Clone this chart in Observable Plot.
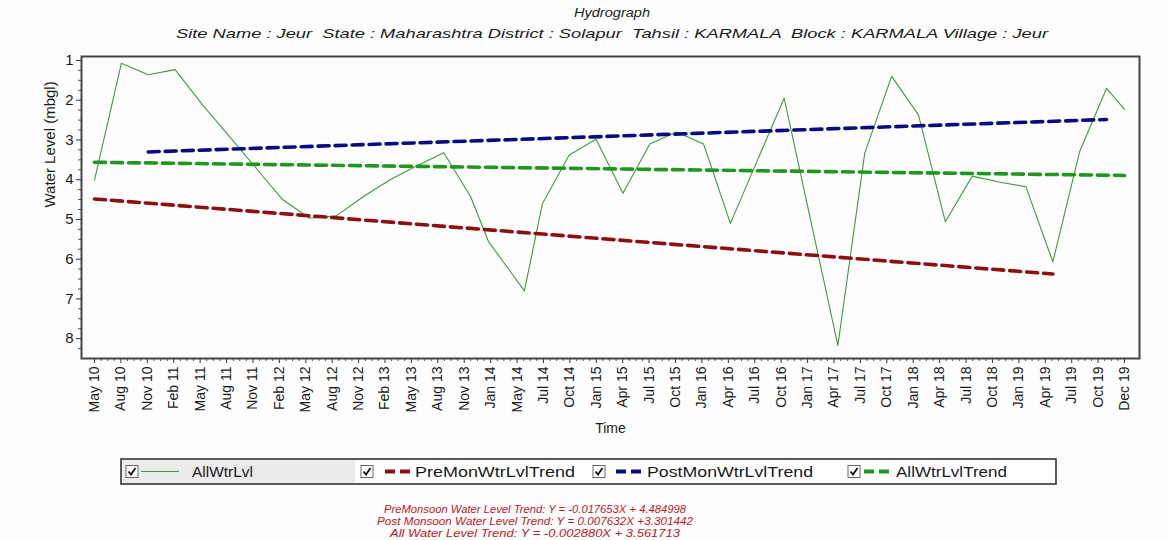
<!DOCTYPE html>
<html>
<head>
<meta charset="utf-8">
<script src="https://cdn.jsdelivr.net/npm/d3@7"></script>
<script src="https://cdn.jsdelivr.net/npm/@observablehq/plot@0.6"></script>
<style>
  body { margin: 0; background: #ffffff; font-family: "Liberation Sans", Arial, sans-serif; }
  #chart { position: relative; width: 1168px; height: 540px; overflow: hidden; background: #fdfdfd; }
  #chart > svg { position: absolute; left: 0; }
</style>
</head>
<body>
<div id="chart"></div>
<script>
// ---- chart text ----
const titleText = "Hydrograph";
const subtitleText = "Site Name : Jeur  State : Maharashtra District : Solapur  Tahsil : KARMALA  Block : KARMALA Village : Jeur";
const yTitle = "Water Level (mbgl)";
const xTitle = "Time";

// ---- observations (depth to water, metres below ground level) ----
const dateLabels = [
  "May 10", "Aug 10", "Nov 10", "Feb 11", "May 11", "Aug 11", "Nov 11", "Feb 12",
  "May 12", "Aug 12", "Nov 12", "Feb 13", "May 13", "Aug 13", "Nov 13", "Jan 14",
  "May 14", "Jul 14", "Oct 14", "Jan 15", "Apr 15", "Jul 15", "Oct 15", "Jan 16",
  "Apr 16", "Jul 16", "Oct 16", "Jan 17", "Apr 17", "Jul 17", "Oct 17", "Jan 18",
  "Apr 18", "Jul 18", "Oct 18", "Jan 19", "Apr 19", "Jul 19", "Oct 19", "Dec 19"
];
const waterLevels = [
  4.01, 1.07, 1.36, 1.23, 2.10, 2.90, 3.70, 4.50,
  4.97, 4.91, 4.43, 4.00, 3.65, 3.32, 4.43, 5.56,
  6.80, 4.61, 3.38, 2.98, 4.34, 3.10, 2.80, 3.10,
  5.10, 3.52, 1.95, 5.06, 8.17, 3.33, 1.40, 2.37,
  5.06, 3.91, 4.06, 4.18, 6.07, 3.29, 1.70, 2.23
];

// ---- trend lines (X = months since the first reading of each season) ----
const trendNames = ["PreMonWtrLvlTrend", "PostMonWtrLvlTrend", "AllWtrLvlTrend"];
const trendSlopes = [-0.017653, 0.007632, -0.002880];
const trendIntercepts = [4.484998, 3.301442, 3.561713];
const trendStarts = ["May 10", "Nov 10", "May 10"];
const trendEnds = ["Apr 19", "Oct 19", "Dec 19"];
const trendColors = ["#8e0f0f", "#0a0a82", "#1f961f"];
const formulaLines = [
  "PreMonsoon Water Level Trend: Y = -0.017653X + 4.484998",
  "Post Monsoon Water Level Trend: Y = 0.007632X +3.301442",
  "All Water Level Trend: Y = -0.002880X + 3.561713"
];

const legendNames = ["AllWtrLvl", ...trendNames];
const levelColor = "#3d9b3d";

// months elapsed since May 2010 for a "Mon YY" label
const monthNames = ["Jan","Feb","Mar","Apr","May","Jun","Jul","Aug","Sep","Oct","Nov","Dec"];
function monthIndex(label) {
  const [m, y] = label.split(" ");
  return (2000 + (+y)) * 12 + monthNames.indexOf(m);
}
const origin = monthIndex(dateLabels[0]);
const toMonths = (label) => monthIndex(label) - origin;
const span = toMonths(dateLabels[dateLabels.length - 1]);

const series = dateLabels.map((d, i) => ({month: toMonths(d), level: waterLevels[i]}));

// the trend is quoted as a rise of the water table, so depth grows when the slope is negative
const trendData = trendNames.map((name, i) => {
  const x0 = toMonths(trendStarts[i]), x1 = toMonths(trendEnds[i]);
  return [x0, x1].map(m => ({name, month: m, level: trendIntercepts[i] - trendSlopes[i] * (m - x0)}));
});

// category labels sit at even steps along the time axis
const tickPositions = dateLabels.map((_, i) => i * span / (dateLabels.length - 1));
const minorX = d3.range(0, span + 1e-9, span / (dateLabels.length - 1) / 4)
  .filter((_, i) => i % 4 !== 0);
const minorY = d3.range(1, 8.5, 0.25).filter(v => v % 1 !== 0);

const chartEl = document.getElementById("chart");
const svgTop = 50;
const plotHeight = 392;
const frameTop = 56, frameBottom = 358;

const plot = Plot.plot({
  width: 1168,
  height: plotHeight,
  marginLeft: 81,
  marginRight: 29,
  marginTop: frameTop - svgTop,
  marginBottom: plotHeight - (frameBottom - svgTop),
  insetLeft: 13,
  insetRight: 15,
  style: {fontFamily: "'Liberation Sans', Arial, sans-serif", background: "transparent", color: "#1a1a1a"},
  x: {domain: [0, span]},
  y: {domain: [0.9, 8.5], reverse: true},
  marks: [
    Plot.axisY(d3.range(1, 9), {tickSize: 5, tickPadding: 3, fontSize: 15, label: null, stroke: "#333"}),
    Plot.axisY(minorY, {tickSize: 3, tickFormat: () => "", label: null, stroke: "#555"}),
    Plot.axisX(tickPositions, {
      tickSize: 5, tickPadding: 3, tickRotate: -90, fontSize: 14, label: null, stroke: "#333",
      tickFormat: d => dateLabels[Math.round(d * (dateLabels.length - 1) / span)]
    }),
    Plot.axisX(minorX, {tickSize: 3, tickFormat: () => "", label: null, stroke: "#555"}),
    Plot.line(series, {x: "month", y: "level", stroke: levelColor, strokeWidth: 1.1}),
    ...trendData.map((d, i) => Plot.line(d, {
      x: "month", y: "level", stroke: trendColors[i], strokeWidth: 3.6, strokeDasharray: "11,6"
    })),
    Plot.frame({stroke: "#444", strokeWidth: 2}),
    Plot.text([yTitle], {frameAnchor: "left", dx: -31, rotate: -90, fontSize: 15, fill: "#1a1a1a"}),
    Plot.text([xTitle], {frameAnchor: "bottom", dy: 74, fontSize: 14, fill: "#1a1a1a"})
  ]
});
plot.style.top = svgTop + "px";

// ---- header: title and site description ----
const header = d3.create("svg").attr("width", 1168).attr("height", svgTop)
  .style("top", "0px")
  .attr("font-family", "'Liberation Sans', Arial, sans-serif")
  .attr("font-style", "italic")
  .attr("fill", "#1a1a1a");
header.append("text").attr("x", 612).attr("y", 17).attr("text-anchor", "middle")
  .attr("font-size", 13).attr("textLength", 76).attr("lengthAdjust", "spacingAndGlyphs").text(titleText);
header.append("text").attr("x", 612).attr("y", 38).attr("text-anchor", "middle")
  .style("white-space", "pre").attr("xml:space", "preserve")
  .attr("font-size", 13).attr("textLength", 872).attr("lengthAdjust", "spacingAndGlyphs").text(subtitleText);

// ---- footer: legend box and trend equations ----
const footTop = svgTop + plotHeight;
const footer = d3.create("svg").attr("width", 1168).attr("height", 540 - footTop)
  .style("top", footTop + "px")
  .attr("font-family", "'Liberation Sans', Arial, sans-serif");
const fy = y => y - footTop;

footer.append("rect").attr("x", 121).attr("y", fy(459)).attr("width", 935).attr("height", 25)
  .attr("fill", "#ffffff").attr("stroke", "#333").attr("stroke-width", 1.6);
footer.append("rect").attr("x", 122).attr("y", fy(460)).attr("width", 233).attr("height", 23)
  .attr("fill", "#ebebeb");

const legendSlots = [
  {box: 126, sym: 141, text: 192, width: 61},
  {box: 361, sym: 385, text: 415, width: 160},
  {box: 593, sym: 616, text: 647, width: 166},
  {box: 848, sym: 864, text: 896, width: 111}
];
const legendColors = [levelColor, ...trendColors];
const cy = fy(471.5);
legendNames.forEach((name, i) => {
  const s = legendSlots[i];
  const g = footer.append("g");
  g.append("rect").attr("x", s.box).attr("y", cy - 6).attr("width", 12).attr("height", 12)
    .attr("fill", "#fff").attr("stroke", "#666").attr("stroke-width", 1);
  g.append("path").attr("d", `M${s.box + 2.5},${cy} L${s.box + 5},${cy + 3} L${s.box + 9.5},${cy - 3.5}`)
    .attr("fill", "none").attr("stroke", "#111").attr("stroke-width", 1.8);
  if (i === 0) {
    g.append("line").attr("x1", s.sym).attr("x2", s.sym + 38).attr("y1", cy).attr("y2", cy)
      .attr("stroke", legendColors[i]).attr("stroke-width", 1.2);
  } else {
    g.append("line").attr("x1", s.sym).attr("x2", s.sym + 26).attr("y1", cy).attr("y2", cy)
      .attr("stroke", legendColors[i]).attr("stroke-width", 4).attr("stroke-dasharray", "10,5");
  }
  g.append("text").attr("x", s.text).attr("y", cy + 5).attr("font-size", 14.5)
    .attr("textLength", s.width).attr("lengthAdjust", "spacingAndGlyphs")
    .attr("fill", "#1a1a1a").text(name);
});

const formulaWidths = [302, 316, 290];
formulaLines.forEach((t, i) => {
  footer.append("text").attr("x", 535).attr("y", fy(513 + i * 12)).attr("text-anchor", "middle")
    .attr("font-size", 11).attr("font-style", "italic").attr("fill", "#c0181e")
    .attr("textLength", formulaWidths[i]).attr("lengthAdjust", "spacingAndGlyphs").text(t);
});

chartEl.append(header.node());
chartEl.append(plot);
chartEl.append(footer.node());
</script>
</body>
</html>
